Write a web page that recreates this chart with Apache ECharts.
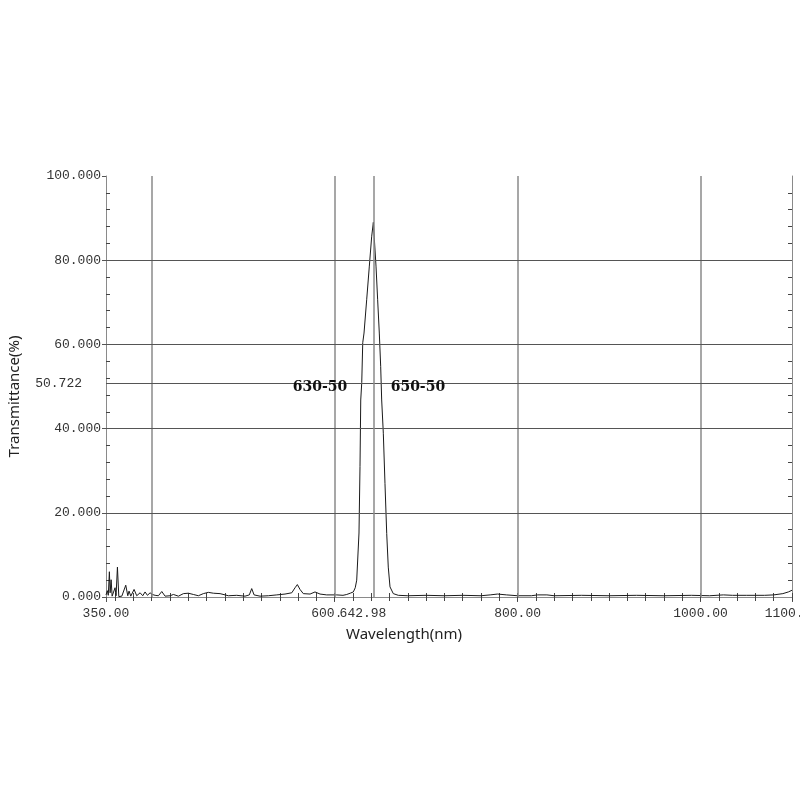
<!DOCTYPE html>
<html>
<head>
<meta charset="utf-8">
<script src="https://cdn.jsdelivr.net/npm/echarts@6/dist/echarts.min.js"></script>
<style>html,body{margin:0;padding:0;background:#fff}#c{width:800px;height:800px}</style>
</head>
<body>
<div id="c"></div>
<script>
// Wavelength (nm) of each sample
const wavelengths = [350,351.5,352.5,353.7,354.5,355.6,356.7,358.1,359.9,361,362.5,364,365.5,367.3,371.6,373.8,375.2,377.1,379,380.7,383.6,387.3,390.2,392.7,395.3,398.2,400.5,403.7,407.3,411,414.6,420.1,423.7,429.2,434.6,440.1,445.5,451,456.4,461.9,467.4,474.7,483.8,492.9,502,506.7,509.3,511.9,518.4,527.5,536.7,545.7,553.1,556.7,559.2,562.1,565.7,573.1,578.5,584,591.3,602.2,609.1,613.2,617,620.4,622.5,624.1,626.6,627.7,628.5,629.6,630.7,632.1,635.0,637.9,640.5,642.3,643.3,645.2,647.0,648.8,650.3,651.4,653.2,655.0,656.9,658.6,660.5,664.1,669.6,680,700,720,740,760,770,778,788,800,815,822,832,840,870,900,930,960,990,1010,1025,1035,1050,1070,1080,1090,1096,1100];
// Transmittance (%) at each wavelength
const transmittance = [0.5,1.5,0.4,6.0,1.0,4.1,0.2,0.5,2.2,0.3,7.1,0.1,0.4,0.2,2.8,0.3,1.4,0.2,0.4,1.8,0.3,1.0,0.3,1.2,0.4,1.0,0.6,0.4,0.3,1.3,0.2,0.3,0.6,0.2,0.8,0.9,0.6,0.3,0.8,1.1,0.9,0.8,0.3,0.4,0.2,0.5,2.0,0.5,0.2,0.3,0.5,0.7,1.0,2.2,2.95,1.8,0.8,0.7,1.2,0.7,0.5,0.5,0.4,0.6,0.9,1.2,2.2,4.0,15.2,31,46.8,50.9,60.4,62.7,70.6,78.6,85.7,89.0,85.3,78.6,70.6,62.7,54.8,46.8,38.9,27,15.1,7.1,2.4,0.8,0.4,0.3,0.4,0.3,0.4,0.3,0.5,0.7,0.5,0.3,0.3,0.5,0.5,0.3,0.4,0.3,0.4,0.3,0.4,0.3,0.5,0.4,0.4,0.4,0.5,0.8,1.2,1.6];

// Axis ticks and labels
const xLabelValues = [350, 600, 800, 1000, 1100];
const xGridValues = [400, 600, 800, 1000];
const yGridValues = [20, 40, 60, 80];
const xMinorTicks = [];
for (let v = 360; v <= 1100; v += 20) xMinorTicks.push(v);
const yMinorTicks = [];
for (let v = 4; v < 100; v += 4) yMinorTicks.push(v);

// Markers
const peakWavelength = 642.98;
const markerTransmittance = 50.722;
const annotationNames = ['630-50', '650-50'];
const annotationX = [584, 691];
const annotationY = [49.7, 49.7];

const pairs = wavelengths.map((w, i) => [w, transmittance[i]]);
const monoFont = 'Liberation Mono';
const axisGray = '#8a8a8a';

const chart = echarts.init(document.getElementById('c'));
chart.setOption({
  backgroundColor: '#fff',
  animation: false,
  grid: {left: 106, right: 8, top: 176, bottom: 203, containLabel: false, outerBoundsMode: 'none'},
  xAxis: [
    {
      type: 'value', min: 350, max: 1100, position: 'bottom',
      axisLine: {lineStyle: {color: '#333', width: 1}},
      axisTick: {show: true, customValues: xLabelValues, length: 5, lineStyle: {color: '#555'}},
      axisLabel: {customValues: xLabelValues, formatter: v => v.toFixed(2), margin: 10,
        fontFamily: monoFont, fontSize: 13, color: '#333', hideOverlap: false},
      splitLine: {show: false},
      name: 'Wavelength(nm)', nameLocation: 'middle', nameGap: 30,
      nameTextStyle: {fontFamily: 'Noto Sans', fontSize: 15, color: '#222', padding: [0, 90, 0, 0]}
    },
    {
      type: 'value', min: 350, max: 1100, position: 'bottom',
      axisLine: {show: false},
      axisTick: {show: true, inside: true, customValues: xMinorTicks, length: 4, lineStyle: {color: '#444'}},
      axisLabel: {show: false}, splitLine: {show: false}
    },
    {
      type: 'value', min: 350, max: 1100, position: 'top',
      axisLine: {show: true, lineStyle: {color: axisGray}},
      axisTick: {show: true, inside: true, customValues: xMinorTicks, length: 4, lineStyle: {color: '#444'}},
      axisLabel: {show: false}, splitLine: {show: false}
    }
  ],
  yAxis: [
    {
      type: 'value', min: 0, max: 100, interval: 20, position: 'left',
      axisLine: {show: true, lineStyle: {color: axisGray}},
      axisTick: {show: true, length: 4, lineStyle: {color: '#555'}},
      axisLabel: {formatter: v => v.toFixed(3), margin: 5, fontFamily: monoFont, fontSize: 13, color: '#333'},
      splitLine: {show: false},
      name: 'Transmittance(%)', nameLocation: 'middle', nameGap: 84,
      nameTextStyle: {fontFamily: 'Noto Sans', fontSize: 15, color: '#222', padding: [0, 20, 0, 0]}
    },
    {
      type: 'value', min: 0, max: 100, position: 'left',
      axisLine: {show: false},
      axisTick: {show: true, inside: true, customValues: yMinorTicks, length: 4, lineStyle: {color: '#444'}},
      axisLabel: {show: false}, splitLine: {show: false}
    },
    {
      type: 'value', min: 0, max: 100, position: 'right',
      axisLine: {show: true, lineStyle: {color: axisGray}},
      axisTick: {show: true, inside: true, customValues: yMinorTicks, length: 4, lineStyle: {color: '#444'}},
      axisLabel: {show: false}, splitLine: {show: false}
    }
  ],
  series: [
    {
      type: 'line', data: pairs, xAxisIndex: 0, yAxisIndex: 0, z: 1,
      showSymbol: false, symbol: 'none', silent: true,
      lineStyle: {opacity: 0, width: 0},
      markLine: {
        silent: true, symbol: 'none', animation: false,
        label: {show: false},
        data: [
          ...xGridValues.map(v => ({xAxis: v, lineStyle: {color: '#8a8a8a', width: 1.5, type: 'solid'}})),
          ...yGridValues.map(v => ({yAxis: v, lineStyle: {color: '#555', width: 1, type: 'solid'}})),
          {yAxis: markerTransmittance, lineStyle: {color: '#555', width: 1, type: 'solid'},
            label: {show: true, position: 'start', distance: 24, formatter: '50.722',
              fontFamily: monoFont, fontSize: 13, color: '#333'}},
          {xAxis: peakWavelength, lineStyle: {color: '#8a8a8a', width: 1.5, type: 'solid'},
            label: {show: true, position: 'start', distance: 9, formatter: '642.98',
              fontFamily: monoFont, fontSize: 13, color: '#333', backgroundColor: '#fff',
              padding: [1, 22, 1, 0]}}
        ]
      },
      markPoint: {
        silent: true, symbol: 'circle', symbolSize: 0,
        label: {show: true, position: 'inside', formatter: p => p.name,
          fontFamily: 'DejaVu Serif', fontWeight: 'bold', fontSize: 14, color: '#111'},
        data: annotationNames.map((n, i) => ({name: n, coord: [annotationX[i], annotationY[i]]}))
      }
    },
    {
      type: 'line', data: pairs, xAxisIndex: 0, yAxisIndex: 0, z: 3,
      showSymbol: false, symbol: 'none', silent: true,
      lineStyle: {color: '#1a1a1a', width: 1}
    }
  ]
});
</script>
</body>
</html>
